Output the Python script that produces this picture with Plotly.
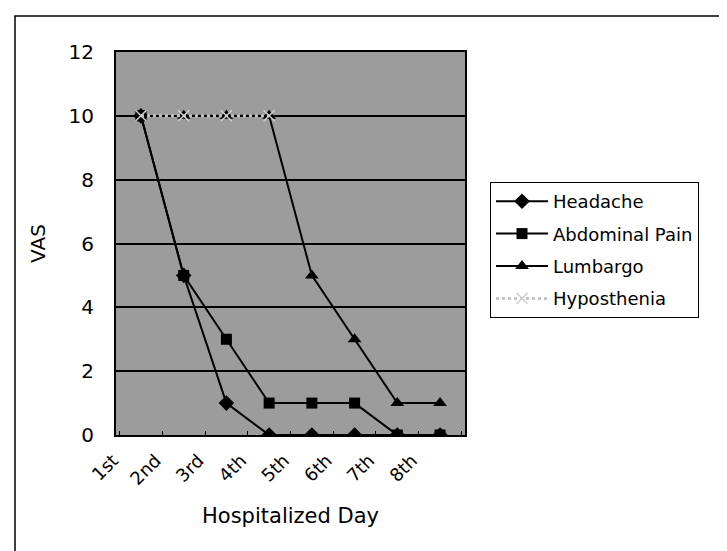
import plotly.graph_objects as go

days = ["1st", "2nd", "3rd", "4th", "5th", "6th", "7th", "8th"]
headache = [10, 5, 1, 0, 0, 0, 0, 0]
abdominal = [10, 5, 3, 1, 1, 1, 0, 0]
lumbargo = [None, 10, 10, 10, 5, 3, 1, 1]
hyposthenia = [10, 10, 10, 10, None, None, None, None]

L, R, T, B = 108, 457, 44, 427
W, H = 727, 551
FONT = "DejaVu Sans, Verdana, sans-serif"

fig = go.Figure()
fig.add_trace(go.Scatter(x=days, y=headache, name="Headache", mode="lines+markers",
                         legendgroup="a",
                         line=dict(color="black", width=2),
                         marker=dict(symbol="diamond", size=12, color="black")))
fig.add_trace(go.Scatter(x=days, y=abdominal, name="Abdominal Pain", mode="lines+markers",
                         legendgroup="b",
                         line=dict(color="black", width=2),
                         marker=dict(symbol="square", size=11, color="black")))
fig.add_trace(go.Scatter(x=days, y=lumbargo, name="Lumbargo", mode="lines+markers",
                         legendgroup="c",
                         line=dict(color="black", width=2),
                         marker=dict(symbol="triangle-up", size=12, color="black")))
fig.add_trace(go.Scatter(x=days, y=hyposthenia, name="Hyposthenia", mode="lines+markers",
                         legendgroup="d",
                         line=dict(color="#c4c4c4", width=3, dash="dot"),
                         marker=dict(symbol="x-thin", size=11, color="#d0d0d0",
                                     line=dict(color="#d0d0d0", width=1.5))))

def px(x):
    return (x - L) / (R - L)

def py(y):
    return (B - y) / (B - T)

fig.update_layout(
    width=W, height=H,
    margin=dict(l=L, r=W - R, t=T, b=H - B),
    paper_bgcolor="white",
    plot_bgcolor="#9c9c9c",
    font=dict(family=FONT, size=18, color="black"),
    showlegend=True,
    legend=dict(x=px(482), y=py(174), xanchor="left", yanchor="top",
                bordercolor="black", borderwidth=1, bgcolor="white",
                font=dict(size=18, family=FONT), itemwidth=52, tracegroupgap=6,
                traceorder="grouped"),
    xaxis=dict(type="category", tickangle=-45, showgrid=False,
               showline=True, linecolor="black", linewidth=2, mirror=True,
               ticks="inside", tickson="boundaries", ticklen=4, tickcolor="black",
               ticklabelshift=-28, ticklabelstandoff=6,
               title=dict(text="Hospitalized Day", font=dict(size=21, family=FONT), standoff=20),
               tickfont=dict(size=18, family=FONT)),
    yaxis=dict(range=[0, 12], dtick=2, showgrid=True, gridcolor="black", gridwidth=1.5,
               showline=True, linecolor="black", linewidth=2, mirror=True,
               zeroline=False, ticks="", tickfont=dict(size=20, family=FONT),
               ticklabelstandoff=16,
               title=dict(text="VAS", font=dict(size=20, family=FONT), standoff=18)),
    shapes=[dict(type="rect", xref="paper", yref="paper",
                 x0=px(7), x1=px(740), y0=py(570), y1=py(8),
                 line=dict(color="black", width=1.5), fillcolor="rgba(0,0,0,0)",
                 layer="below")],
)

fig.write_html("out.html")
